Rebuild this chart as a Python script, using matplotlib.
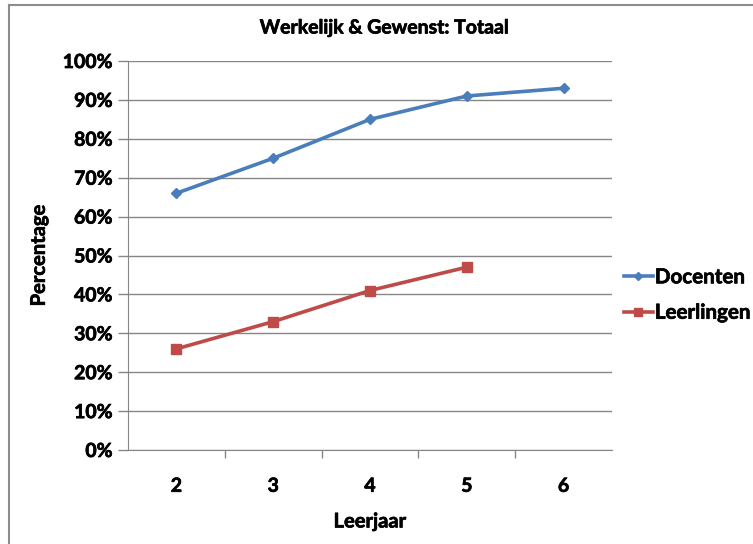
import matplotlib
matplotlib.use("Agg")
import matplotlib.pyplot as plt
import matplotlib.patheffects as pe
from matplotlib.lines import Line2D
from matplotlib.ticker import PercentFormatter, FixedLocator, NullFormatter

leerjaar = [2, 3, 4, 5, 6]
docenten = [66, 75, 85, 91, 93]
leerlingen_jaar = [2, 3, 4, 5]
leerlingen = [26, 33, 41, 47]

blue = "#4A7EBB"
red = "#BE4B48"
grid = "#868686"

plt.rcParams["font.family"] = ["Lato", "DejaVu Sans"]
thick = [pe.withStroke(linewidth=0.5, foreground="black")]

fig = plt.figure(figsize=(7.53, 5.44), dpi=100)
ax = fig.add_axes([128 / 753, 1 - 450 / 544, (612 - 128) / 753, (450 - 61) / 544])

ax.plot(leerjaar, docenten, color=blue, lw=2.6, marker="D", ms=5.5, label="Docenten")
ax.plot(leerlingen_jaar, leerlingen, color=red, lw=2.6, marker="s", ms=6.5, label="Leerlingen")

ax.set_xlim(1.5, 6.5)
ax.set_ylim(0, 100)
ax.set_yticks(range(0, 101, 10))
ax.yaxis.set_major_formatter(PercentFormatter(decimals=0))
ax.set_xticks(leerjaar)
ax.xaxis.set_minor_locator(FixedLocator([2.5, 3.5, 4.5, 5.5]))
ax.xaxis.set_minor_formatter(NullFormatter())
ax.tick_params(axis="x", which="major", length=0, pad=20, labelsize=14)
ax.tick_params(axis="x", which="minor", length=6, color=grid, width=1)
ax.tick_params(axis="y", length=7, color=grid, width=1, pad=4, labelsize=14)
for lbl in ax.get_xticklabels() + ax.get_yticklabels():
    lbl.set_fontweight("bold")
    lbl.set_path_effects(thick)

ax.grid(axis="y", color=grid, lw=1)
ax.set_axisbelow(True)
for s in ["top", "right"]:
    ax.spines[s].set_visible(False)
ax.spines["left"].set_color(grid)
ax.spines["bottom"].set_color(grid)

ax.set_xlabel("Leerjaar", fontsize=14.5, fontweight="bold", labelpad=12, path_effects=thick)
ax.set_ylabel("Percentage", fontsize=14.5, fontweight="bold", labelpad=10, path_effects=thick)
fig.text(385 / 753, 1 - 28 / 544, "Werkelijk & Gewenst: Totaal", ha="center", va="center",
         fontsize=14, fontweight="bold", path_effects=thick)

handles = [Line2D([], [], color=blue, lw=2.6, marker="D", ms=4.5),
           Line2D([], [], color=red, lw=2.6, marker="s", ms=6)]
leg = fig.legend(handles, ["Docenten", "Leerlingen"], loc="center left",
                 bbox_to_anchor=(624 / 753, 1 - 295 / 544), frameon=False,
                 handlelength=1.4, handletextpad=0.1, labelspacing=0.75,
                 borderpad=0, borderaxespad=0,
                 prop={"size": 14.8, "weight": "bold"})
for t in leg.get_texts():
    t.set_path_effects(thick)

# outer chart frame
fig.add_artist(Line2D([9 / 753, 9 / 753], [0, 1 - 5 / 544], color="#8c8c8c", lw=1.5,
                      transform=fig.transFigure))
fig.add_artist(Line2D([9 / 753, 1], [1 - 5 / 544, 1 - 5 / 544], color="#8c8c8c", lw=1.5,
                      transform=fig.transFigure))

fig.savefig("out.png", dpi=100)
